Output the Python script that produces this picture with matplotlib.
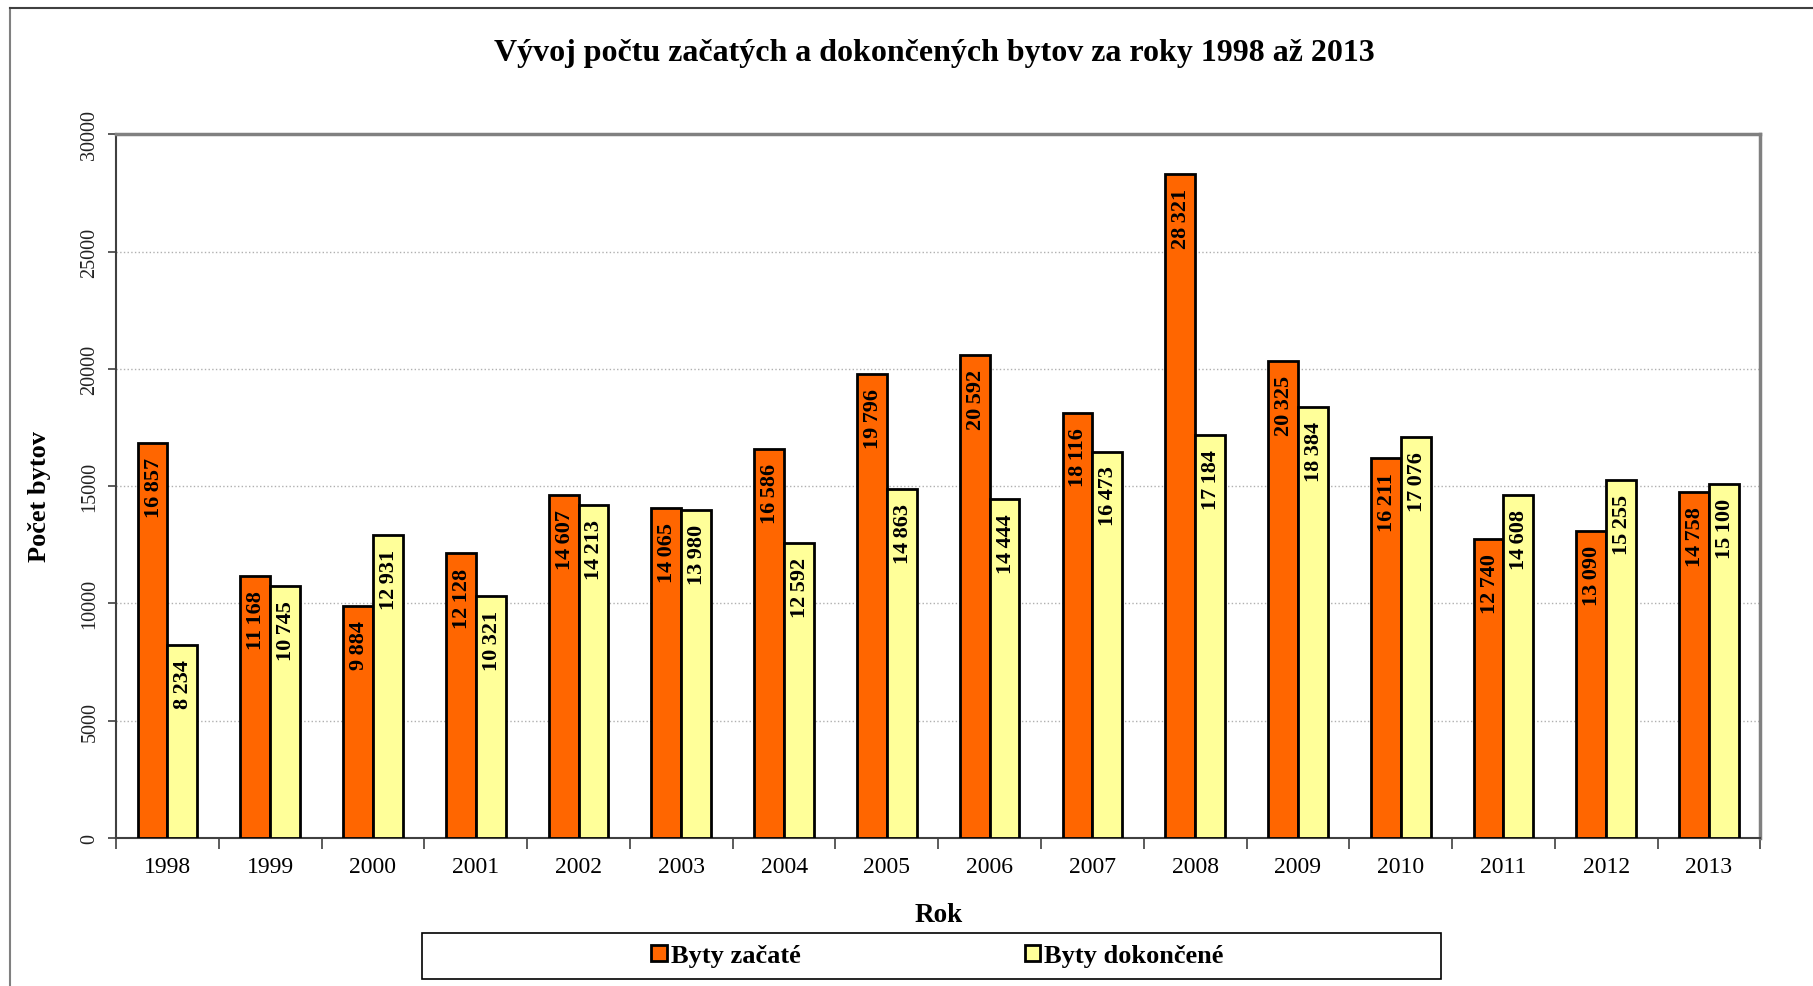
import numpy as np
import matplotlib.pyplot as plt
from matplotlib.lines import Line2D
from matplotlib.patches import Rectangle

plt.rcParams['font.family'] = ['Liberation Serif', 'DejaVu Serif']

years = ['1998', '1999', '2000', '2001', '2002', '2003', '2004', '2005',
         '2006', '2007', '2008', '2009', '2010', '2011', '2012', '2013']
zacate = [16857, 11168, 9884, 12128, 14607, 14065, 16586, 19796,
          20592, 18116, 28321, 20325, 16211, 12740, 13090, 14758]
dokoncene = [8234, 10745, 12931, 10321, 14213, 13980, 12592, 14863,
             14444, 16473, 17184, 18384, 17076, 14608, 15255, 15100]
y_ticks = [0, 5000, 10000, 15000, 20000, 25000, 30000]


def fmt(v):
    return '{:,}'.format(v).replace(',', '\u2009')


fig = plt.figure(figsize=(18.13, 9.87), dpi=100)
ax = fig.add_axes([0.064, 0.150, 0.907, 0.713])

x = np.arange(len(years))
w = 0.29
b1 = ax.bar(x - w / 2, zacate, w, color='#FF6600', edgecolor='black',
            linewidth=2, label='Byty začaté', zorder=3)
b2 = ax.bar(x + w / 2, dokoncene, w, color='#FFFF99', edgecolor='black',
            linewidth=2, label='Byty dokončené', zorder=3)

for bars, vals in ((b1, zacate), (b2, dokoncene)):
    for r, v in zip(bars, vals):
        ax.annotate(fmt(v), (r.get_x() + r.get_width() / 2, r.get_height()),
                    xytext=(1, -14), textcoords='offset pixels',
                    rotation=90, ha='center', va='top',
                    fontsize=16, fontweight='bold', zorder=4)

ax.set_xlim(-0.5, len(years) - 0.5)
ax.set_ylim(0, 30000)
ax.set_yticks(y_ticks)
ax.set_yticklabels([str(t) for t in y_ticks], rotation=90, va='center',
                   fontsize=14.5, color='#222222')
ax.set_xticks(x)
ax.set_xticklabels(years, fontsize=17)
ax.set_xticks(np.arange(-0.5, len(years)), minor=True)
ax.tick_params(axis='x', which='major', length=0, pad=13)
ax.tick_params(axis='x', which='minor', length=8, width=1.2, color='#404040')
ax.tick_params(axis='y', length=6, width=1.2, color='#404040', pad=6)

ax.yaxis.grid(True, linestyle=':', color='#b0b0b0', linewidth=1, zorder=0)
ax.set_axisbelow(True)
for s in ('top', 'right'):
    ax.spines[s].set_color('#808080')
    ax.spines[s].set_linewidth(2.5)
for s in ('left', 'bottom'):
    ax.spines[s].set_color('#404040')
    ax.spines[s].set_linewidth(1.5)

fig.text(0.5155, 0.946, 'Vývoj počtu začatých a dokončených bytov za roky 1998 až 2013',
         ha='center', va='center', fontsize=23, fontweight='bold')
fig.text(0.022, 0.497, 'Počet bytov', rotation=90, ha='center', va='center',
         fontsize=19, fontweight='bold')
fig.text(0.5175, 0.072, 'Rok', ha='center', va='center',
         fontsize=19.5, fontweight='bold')

fig.patches.append(Rectangle((0.233, 0.007), 0.562, 0.047, transform=fig.transFigure,
                             fill=False, edgecolor='black', linewidth=1.2))
leg = fig.legend(loc='center', bbox_to_anchor=(0.517, 0.0305), ncol=2,
                 frameon=False, handlelength=0.6, handleheight=0.6,
                 handletextpad=0.13, columnspacing=8.5,
                 prop={'size': 19, 'weight': 'bold'})

fig.add_artist(Line2D([0.0055, 0.0055], [0.0, 0.991], transform=fig.transFigure,
                      color='#808080', linewidth=1.5))
fig.add_artist(Line2D([0.0055, 1.0], [0.991, 0.991], transform=fig.transFigure,
                      color='#404040', linewidth=1.5))

fig.savefig('out.png', dpi=100)
